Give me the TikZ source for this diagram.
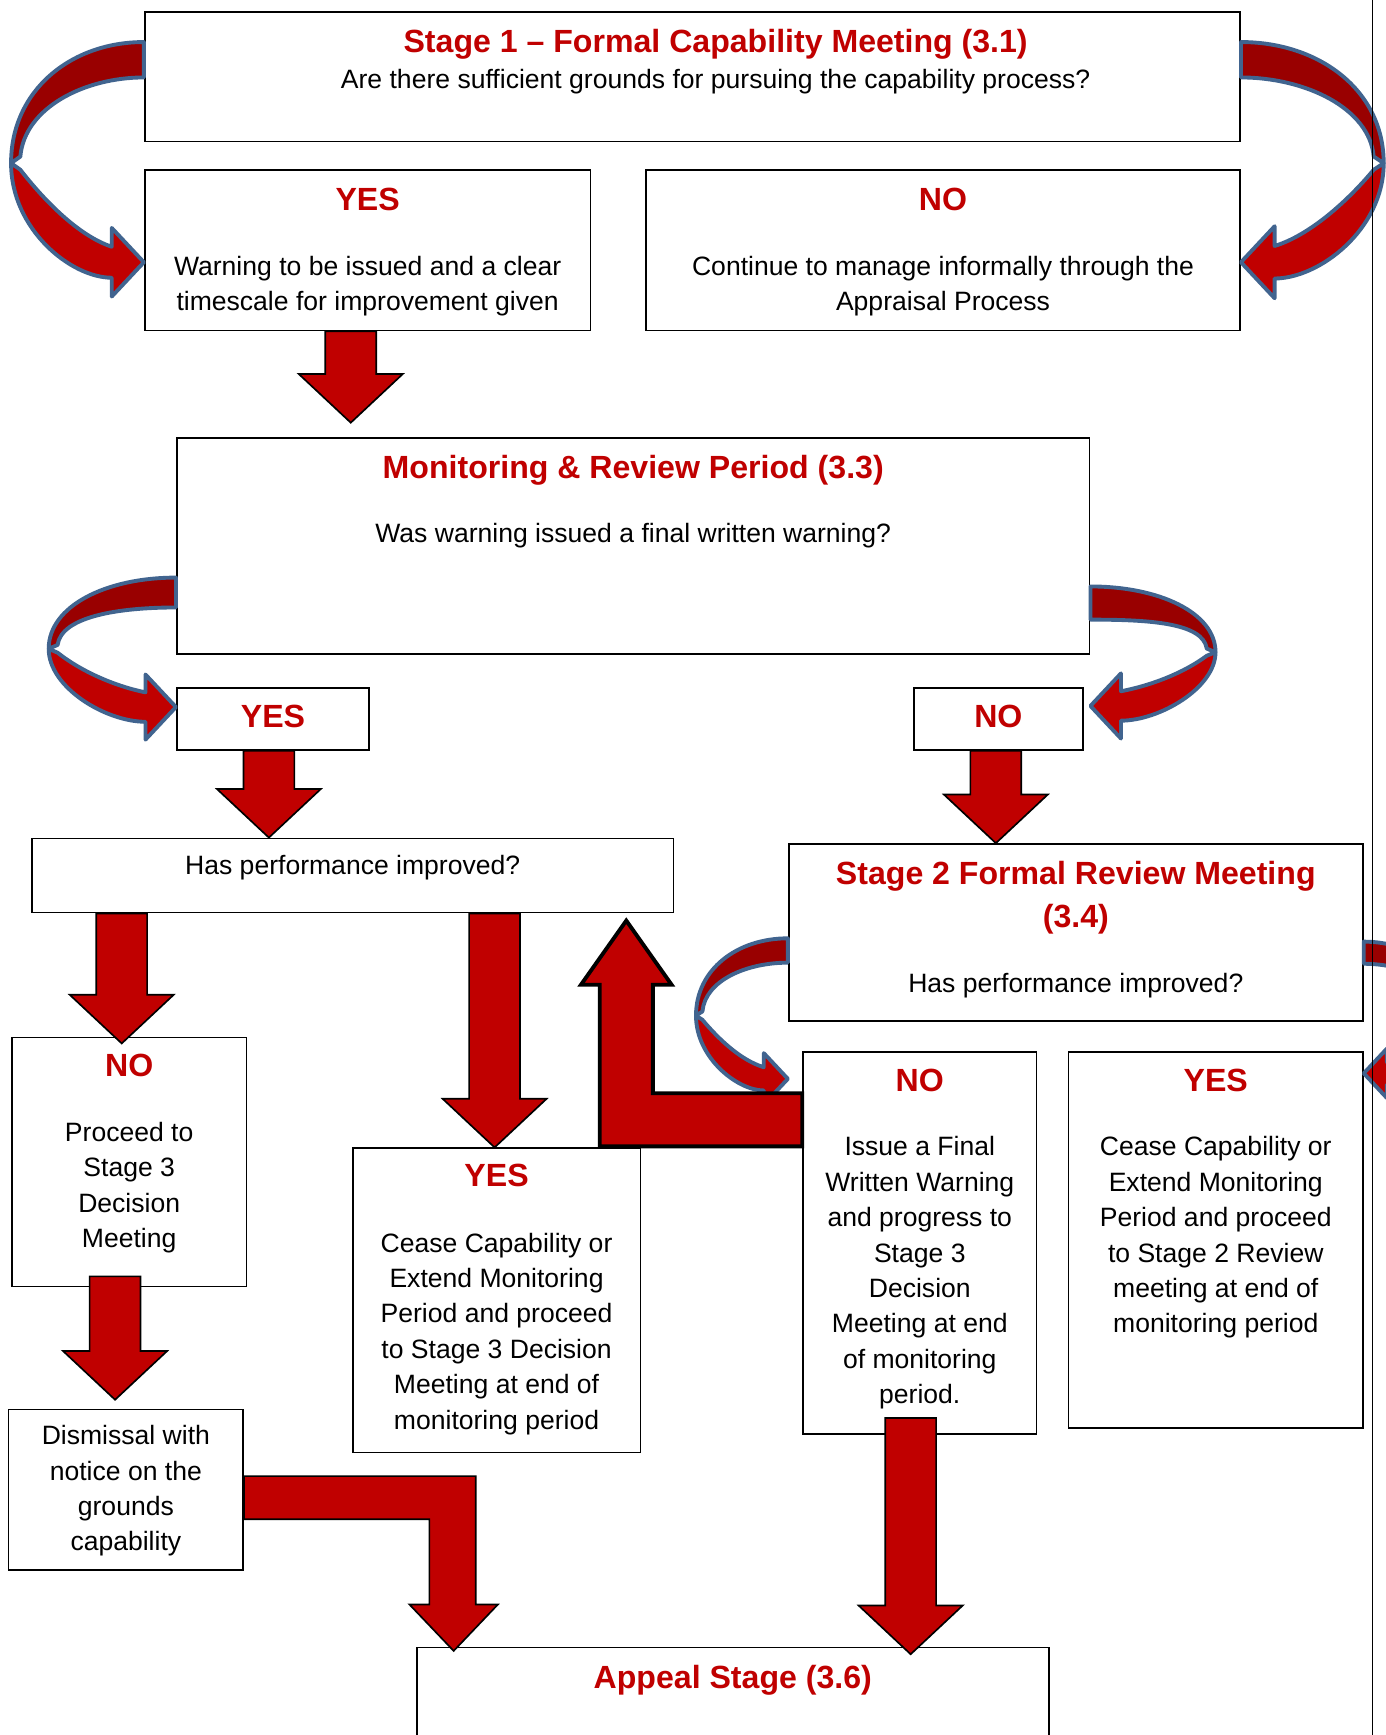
\documentclass[tikz,border=0pt]{standalone}
\usepackage{fontspec}
\setmainfont{Liberation Sans}
\usetikzlibrary{positioning,calc}
\definecolor{titlered}{HTML}{C00000}
\definecolor{arrowred}{HTML}{C00000}
\definecolor{backred}{HTML}{990000}
\definecolor{arrowblue}{HTML}{41648F}
\newcommand{\headfont}{\fontsize{29}{39}\selectfont\bfseries}
\newcommand{\bodyfont}{\fontsize{24}{32}\selectfont}
% curved arrow: tail point, side (1 bulges left, -1 right), width, height, tail thickness, head scale
\newcommand{\curvedarrow}[6]{%
  \begin{scope}[shift={#1},xscale=#2]
    \pgfmathsetmacro\arrhl{29*#6}
    \pgfmathsetmacro\arrha{31*#6}
    \pgfmathsetmacro\arrhb{14*#6}
    \path[bandback] (0,0) .. controls ({-0.55*#3},0) and ({-#3},{0.22*#4}) .. ({-#3},{0.55*#4})
      -- ({-0.93*#3},{0.52*#4}) .. controls ({-0.9*#3},{0.3*#4}) and ({-0.45*#3},#5) .. (0,#5) -- cycle;
    \path[bandfront] ({-#3},{0.55*#4}) .. controls ({-#3},{0.85*#4}) and ({-0.55*#3},{#4+\arrhb}) .. ({-\arrhl},{#4+\arrhb})
      -- ({-\arrhl},{#4+\arrha}) -- (0,#4) -- ({-\arrhl},{#4-\arrha}) -- ({-\arrhl},{#4-\arrhb})
      .. controls ({-\arrhl-0.25*#3},{0.95*#4-\arrhb}) and ({-0.75*#3},{0.72*#4}) .. ({-0.93*#3},{0.58*#4}) -- cycle;
  \end{scope}}
% block arrow pointing down: shaft centre x, start, tip
\newcommand{\blockdown}[3]{%
  \path[blockarrow] let \p1=(#2), \p2=(#3), \p3=(#1,0) in
    ({\x3-23pt},\y1) -- ({\x3+23pt},\y1) -- ({\x3+23pt},{\y2+44pt})
    -- ({\x3+47pt},{\y2+44pt}) -- (\x3,\y2) -- ({\x3-47pt},{\y2+44pt})
    -- ({\x3-23pt},{\y2+44pt}) -- cycle;}
\begin{document}
\begin{tikzpicture}[
    x=1pt,y=-1pt,
    box/.style={draw,line width=1.5pt,fill=white,inner sep=0pt,anchor=north west},
    titletext/.style={font=\headfont,text=titlered,inner sep=0pt,align=center},
    bodytext/.style={font=\bodyfont,inner sep=0pt,align=center},
    blockarrow/.style={fill=arrowred,draw=black,line width=1.5pt},
    bandback/.style={fill=backred,draw=arrowblue,line width=3.5pt,line join=round},
    bandfront/.style={fill=arrowred,draw=arrowblue,line width=3.5pt,line join=round}
  ]
  \useasboundingbox (0,0) rectangle (1252,1568);
  \fill[white] (0,0) rectangle (1252,1568);
  % Draw the boxes.
  \node[box,minimum width=990pt,minimum height=117pt] (s1) at (130,10) {};
  \node[box,minimum width=403pt,minimum height=145pt] (yes1) at (130,153) {};
  \node[box,minimum width=537pt,minimum height=145pt] (no1) at (583,153) {};
  \node[box,minimum width=825pt,minimum height=195pt] (mon) at (159,395) {};
  \node[box,minimum width=174pt,minimum height=56pt] (yes2) at (159,621) {};
  \node[box,minimum width=153pt,minimum height=56pt] (no2) at (825,621) {};
  \node[box,minimum width=580pt,minimum height=67pt] (hp) at (28,757) {};
  \node[box,minimum width=519pt,minimum height=160pt] (s2) at (712,762) {};
  \node[box,minimum width=212pt,minimum height=225pt] (no3) at (10,937) {};
  \node[box,minimum width=260pt,minimum height=275pt] (yes3) at (318,1037) {};
  \node[box,minimum width=211pt,minimum height=345pt] (no4) at (725,950) {};
  \node[box,minimum width=266pt,minimum height=340pt] (yes4) at (965,950) {};
  \node[box,minimum width=212pt,minimum height=145pt] (dis) at (7,1273) {};
  \node[box,minimum width=571pt,minimum height=120pt] (app) at (376,1488) {};
  % Draw the texts.
  \node[titletext,below=16pt of s1.north,xshift=21pt] (s1h) {Stage 1 – Formal Capability Meeting (3.1)};
  \node[bodytext,below=52pt of s1.north,xshift=21pt] (s1b) {Are there sufficient grounds for pursuing the capability process?};
  \node[titletext,below=17pt of yes1.north] (yes1h) {YES};
  \node[bodytext,below=78pt of yes1.north] (yes1b) {Warning to be issued and a clear\\timescale for improvement given};
  \node[titletext,below=17pt of no1.north] (no1h) {NO};
  \node[bodytext,below=78pt of no1.north] (no1b) {Continue to manage informally through the\\Appraisal Process};
  \node[titletext,below=16pt of mon.north] (monh) {Monitoring \& Review Period (3.3)};
  \node[bodytext,below=78pt of mon.north] (monb) {Was warning issued a final written warning?};
  \node[titletext,yshift=2pt] (yes2h) at (yes2.center) {YES};
  \node[titletext,yshift=2pt] (no2h) at (no2.center) {NO};
  \node[bodytext,below=16pt of hp.north] (hpb) {Has performance improved?};
  \node[titletext,below=16pt of s2.north] (s2h) {Stage 2 Formal Review Meeting\\(3.4)};
  \node[bodytext,below=117pt of s2.north] (s2b) {Has performance improved?};
  \node[titletext,below=15pt of no3.north] (no3h) {NO};
  \node[bodytext,below=77pt of no3.north] (no3b) {Proceed to\\Stage 3\\Decision\\Meeting};
  \node[titletext,below=15pt of yes3.north] (yes3h) {YES};
  \node[bodytext,below=77pt of yes3.north] (yes3b) {Cease Capability or\\Extend Monitoring\\Period and proceed\\to Stage 3 Decision\\Meeting at end of\\monitoring period};
  \node[titletext,below=16pt of no4.north] (no4h) {NO};
  \node[bodytext,below=77pt of no4.north] (no4b) {Issue a Final\\Written Warning\\and progress to\\Stage 3\\Decision\\Meeting at end\\of monitoring\\period.};
  \node[titletext,below=16pt of yes4.north] (yes4h) {YES};
  \node[bodytext,below=77pt of yes4.north] (yes4b) {Cease Capability or\\Extend Monitoring\\Period and proceed\\to Stage 2 Review\\meeting at end of\\monitoring period};
  \node[bodytext,below=15pt of dis.north] (disb) {Dismissal with\\notice on the\\grounds\\capability};
  \node[titletext,below=17pt of app.north] (apph) {Appeal Stage (3.6)};
  % Draw the curved arrows.
  \curvedarrow{(s1.west |- 0,38)}{1}{120}{199}{32}{1}
  \curvedarrow{(s1.east |- 0,38)}{-1}{129}{199}{32}{1.05}
  \curvedarrow{(mon.west |- 0,522)}{1}{115}{117}{27}{0.95}
  \curvedarrow{(mon.east |- 0,530)}{-1}{113}{108}{30}{0.95}
  \curvedarrow{(s2.west |- 0,848)}{1}{83}{127}{22}{0.75}
  \curvedarrow{(s2.east |- 0,851)}{-1}{80}{119}{20}{0.72}
  % Draw the block arrows.
  \blockdown{317}{yes1.south}{$(mon.north)+(0,-13)$}
  \blockdown{243}{yes2.south}{hp.north}
  \blockdown{900}{no2.south}{s2.north}
  \blockdown{110}{hp.south}{$(no3.north)+(0,6)$}
  \blockdown{447}{hp.south}{yes3.north}
  \blockdown{104}{$(no3.south)+(0,-10)$}{$(dis.north)+(0,-8)$}
  \blockdown{823}{$(no4.south)+(0,-15)$}{$(app.north)+(0,7)$}
  \path[blockarrow,line width=3.5pt] (no4.west |- 0,988) -- (590,988) -- (590,890) -- (607,890)
    -- (566,832) -- (525,890) -- (542,890) -- (542,1036) -- (no4.west |- 0,1036) -- cycle;
  \path[blockarrow] (dis.east |- 0,1334) -- (430,1334) -- (430,1450) -- (450,1450)
    -- (410,1492) -- (370,1450) -- (388,1450) -- (388,1373) -- (dis.east |- 0,1373) -- cycle;
  % Draw the page edge.
  \draw[line width=1pt] (1240,0) -- (1240,1568);
\end{tikzpicture}
\end{document}
